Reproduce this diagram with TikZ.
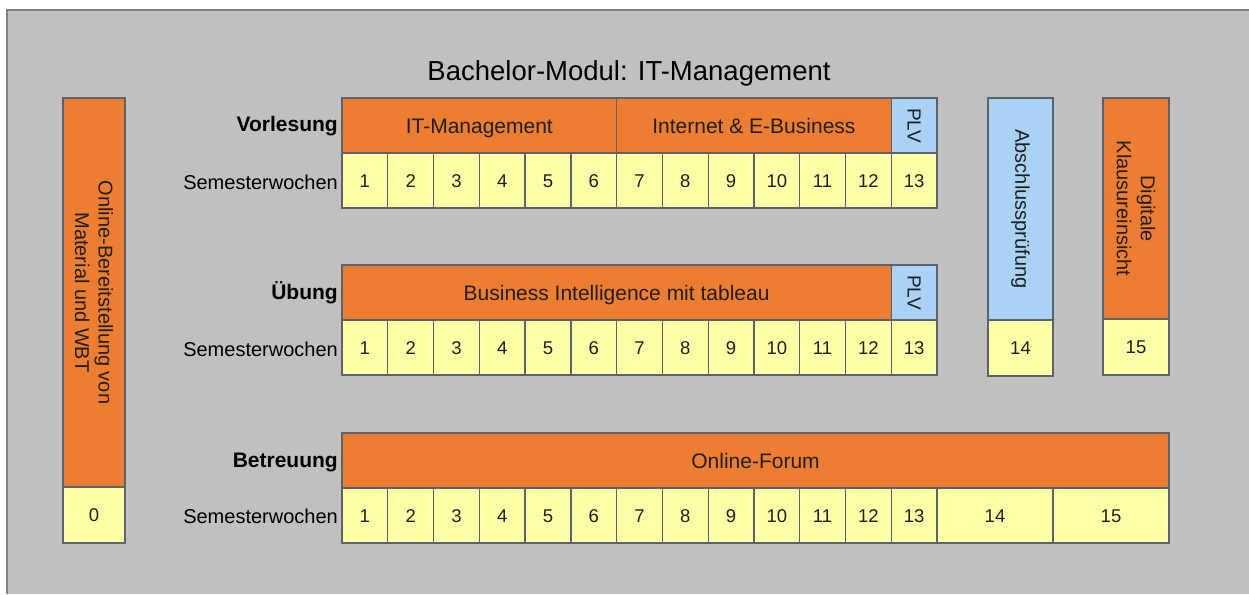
\documentclass[tikz,border=0pt]{standalone}
\usepackage{fontspec}
\setmainfont{Liberation Sans}
\definecolor{modorange}{HTML}{ED7D31}
\definecolor{modyellow}{HTML}{FFFFA8}
\definecolor{modblue}{HTML}{AAD2F5}
\definecolor{modgray}{HTML}{C0C0C0}
\definecolor{modline}{HTML}{5B646B}
\definecolor{modframe}{HTML}{7F7F7F}
\newcommand{\modfont}[1]{\fontsize{#1}{#1}\selectfont}
\begin{document}
\begin{tikzpicture}[x=1pt,y=-1pt,
	box/.style={draw=modline,line width=1.3pt,inner sep=0pt,outer sep=0pt,anchor=north west,text=black!88,align=center,text depth=0pt},
	lecbox/.style={box,fill=modorange,font=\modfont{21},text height=15pt},
	plvbox/.style={box,fill=modblue,font=\modfont{20},text height=14.3pt},
	weekbox/.style={box,fill=modyellow,font=\modfont{18.5},text height=13.3pt,minimum height=55pt},
	turned/.style={rotate=-90,align=center,text=black!88,inner sep=0pt},
	rowlabel/.style={anchor=east,inner sep=0pt,font=\modfont{21}\bfseries},
	weeklabel/.style={anchor=east,inner sep=0pt,font=\modfont{20}}]
	\useasboundingbox (0,0) rectangle (1249,594);
	%	\draw[color=gray,dash pattern=on 1pt off 1pt,step=50pt] (0,0) grid (1249,594);
	\fill[modgray] (7,10) rectangle (1249,594);
	\draw[modframe,line width=1.5pt] (7,594) -- (7,10) -- (1249,10);
	\node[font=\modfont{27.5}] (title) at (629,73) {Bachelor-Modul: IT-Management};
	% left column
	\node[lecbox,minimum width=62pt,minimum height=389pt] (wbt) at (63,98) {};
	\node[turned,font=\fontsize{20}{23.5}\selectfont] at (wbt.center) {Online-Bereitstellung von\\Material und WBT};
	\node[weekbox,minimum width=62pt,minimum height=56pt] (w0) at (63,487) {0};
	% Vorlesung
	\node[lecbox,minimum width=274.6pt,minimum height=55pt] (itm) at (342,98) {IT-Management};
	\node[lecbox,minimum width=274.6pt,minimum height=55pt] (ieb) at (itm.north east) {Internet \& E-Business};
	\node[plvbox,minimum width=45.8pt,minimum height=55pt] (plva) at (ieb.north east) {};
	\node[turned,font=\modfont{19}] at (plva.center) {PLV};
	\node[rowlabel] (vl) at (338,126) {Vorlesung};
	\node[weeklabel] (swa) at (338,182) {Semesterwochen};
	\foreach \i in {1,...,13}
		\node[weekbox,minimum width=45.77pt] (a\i) at ({342+(\i-1)*45.77},153) {\i};
	% Uebung
	\node[lecbox,minimum width=549.2pt,minimum height=55pt] (bi) at (342,265) {Business Intelligence mit tableau};
	\node[plvbox,minimum width=45.8pt,minimum height=55pt] (plvb) at (bi.north east) {};
	\node[turned,font=\modfont{19}] at (plvb.center) {PLV};
	\node[rowlabel] (ue) at (338,293) {Übung};
	\node[weeklabel] (swb) at (338,349) {Semesterwochen};
	\foreach \i in {1,...,13}
		\node[weekbox,minimum width=45.77pt] (b\i) at ({342+(\i-1)*45.77},320) {\i};
	% Abschluss und Einsicht
	\node[plvbox,minimum width=65pt,minimum height=222pt] (ap) at (988,98) {};
	\node[turned,font=\modfont{20}] at (ap.center) {Abschlussprüfung};
	\node[weekbox,minimum width=65pt,minimum height=56pt] (w14) at (988,320) {14};
	\node[lecbox,minimum width=66pt,minimum height=221pt] (ke) at (1103,98) {};
	\node[turned,font=\fontsize{20}{24}\selectfont] at (ke.center) {Digitale\\Klausureinsicht};
	\node[weekbox,minimum width=66pt,minimum height=56pt] (w15) at (1103,319) {15};
	% Betreuung
	\node[lecbox,minimum width=827pt,minimum height=55pt] (forum) at (342,433) {Online-Forum};
	\node[rowlabel] (bt) at (338,462) {Betreuung};
	\node[weeklabel] (swc) at (338,516) {Semesterwochen};
	\foreach \i in {1,...,13}
		\node[weekbox,minimum width=45.77pt] (c\i) at ({342+(\i-1)*45.77},488) {\i};
	\node[weekbox,minimum width=116pt] (c14) at (c13.north east) {14};
	\node[weekbox,minimum width=116pt] (c15) at (c14.north east) {15};
\end{tikzpicture}
\end{document}
